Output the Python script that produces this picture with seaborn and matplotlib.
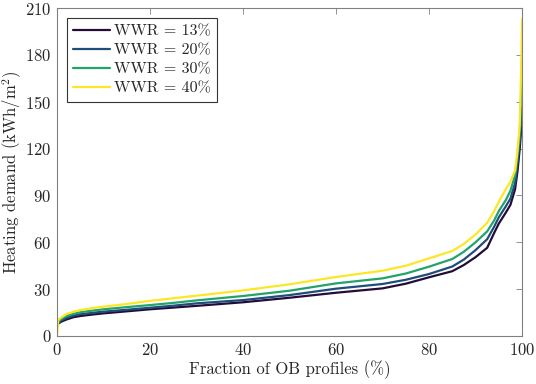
import numpy as np
import pandas as pd
import matplotlib
matplotlib.use("Agg")
import matplotlib.pyplot as plt
import seaborn as sns

# Data
fraction = [0, 0.3, 1, 2, 3.5, 5, 7.5, 10, 15, 20, 25, 30, 40, 50, 60, 70, 75, 80,
            85, 87.5, 90, 92.5, 94, 95, 96.5, 97.5, 98.5, 99, 99.5, 99.8, 100]
wwr13 = [6.5, 8.0, 9.3, 10.5, 12.0, 12.8, 13.7, 14.5, 15.8, 17.1, 18.2, 19.3, 21.6, 24.5, 27.7, 30.5, 33.5, 37.6,
         41.5, 45.5, 50.5, 56.5, 66, 72, 79, 84, 94, 105, 120, 132, 140]
wwr20 = [7.0, 8.5, 10.0, 11.5, 13.0, 13.9, 14.8, 15.6, 16.8, 18.1, 19.4, 20.9, 23.0, 26.2, 30.3, 33.3, 36.0, 39.7,
         44.5, 49, 55, 62, 70, 76, 83, 88, 98, 110, 125, 138, 147]
wwr30 = [8.0, 9.5, 11.0, 12.8, 14.2, 15.2, 16.2, 17.1, 18.5, 19.8, 21.2, 22.8, 25.6, 29.0, 33.7, 36.9, 40.0, 44.4,
         49.3, 54, 60, 67, 74, 80, 87, 93, 103, 115, 130, 155, 178]
wwr40 = [0.0, 10.5, 12.0, 14.0, 15.5, 16.6, 17.8, 18.8, 20.5, 22.5, 24.2, 25.8, 29.2, 33.1, 37.8, 41.8, 45.0, 49.7,
         54.5, 59, 65, 72.5, 80, 86, 94, 99, 106, 118, 135, 170, 203]
labels = ["WWR = 13%", "WWR = 20%", "WWR = 30%", "WWR = 40%"]
colors = ["#240c38", "#1f4d7a", "#22a469", "#fde725"]

frames = []
for lab, vals in zip(labels, [wwr13, wwr20, wwr30, wwr40]):
    frames.append(pd.DataFrame({"x": fraction, "y": vals, "WWR": lab}))
df = pd.concat(frames, ignore_index=True)

sns.set_style("white")
plt.rcParams["font.family"] = ["cmr10", "DejaVu Serif"]
plt.rcParams["mathtext.fontset"] = "cm"
plt.rcParams["axes.formatter.use_mathtext"] = True

fig = plt.figure(figsize=(5.36, 3.84), dpi=100)
ax = fig.add_axes([0.1063, 0.125, 0.974 - 0.1063, 0.979 - 0.125])

sns.lineplot(data=df, x="x", y="y", hue="WWR", palette=colors, linewidth=1.6,
             estimator=None, sort=False, ax=ax)

ax.set_xlim(0, 100)
ax.set_ylim(0, 210)
ax.set_xticks(np.arange(0, 101, 20))
ax.set_yticks(np.arange(0, 211, 30))
ax.set_xlabel("Fraction of OB profiles (%)", fontsize=12, labelpad=2)
ax.set_ylabel("Heating demand (kWh/m$^2$)", fontsize=12, labelpad=1)
ax.tick_params(direction="in", top=True, right=True, length=4, width=0.6,
               color="#808080", labelsize=12, pad=4)
for s in ax.spines.values():
    s.set_color("#808080")
    s.set_linewidth(0.8)

leg = ax.legend(loc="upper left", frameon=True, fancybox=False, edgecolor="black",
                fontsize=11.5, handlelength=2.3, handletextpad=0.25, borderpad=0.4,
                labelspacing=0.3, borderaxespad=0.6)
leg.get_frame().set_linewidth(0.8)

fig.savefig("out.png", dpi=100)
